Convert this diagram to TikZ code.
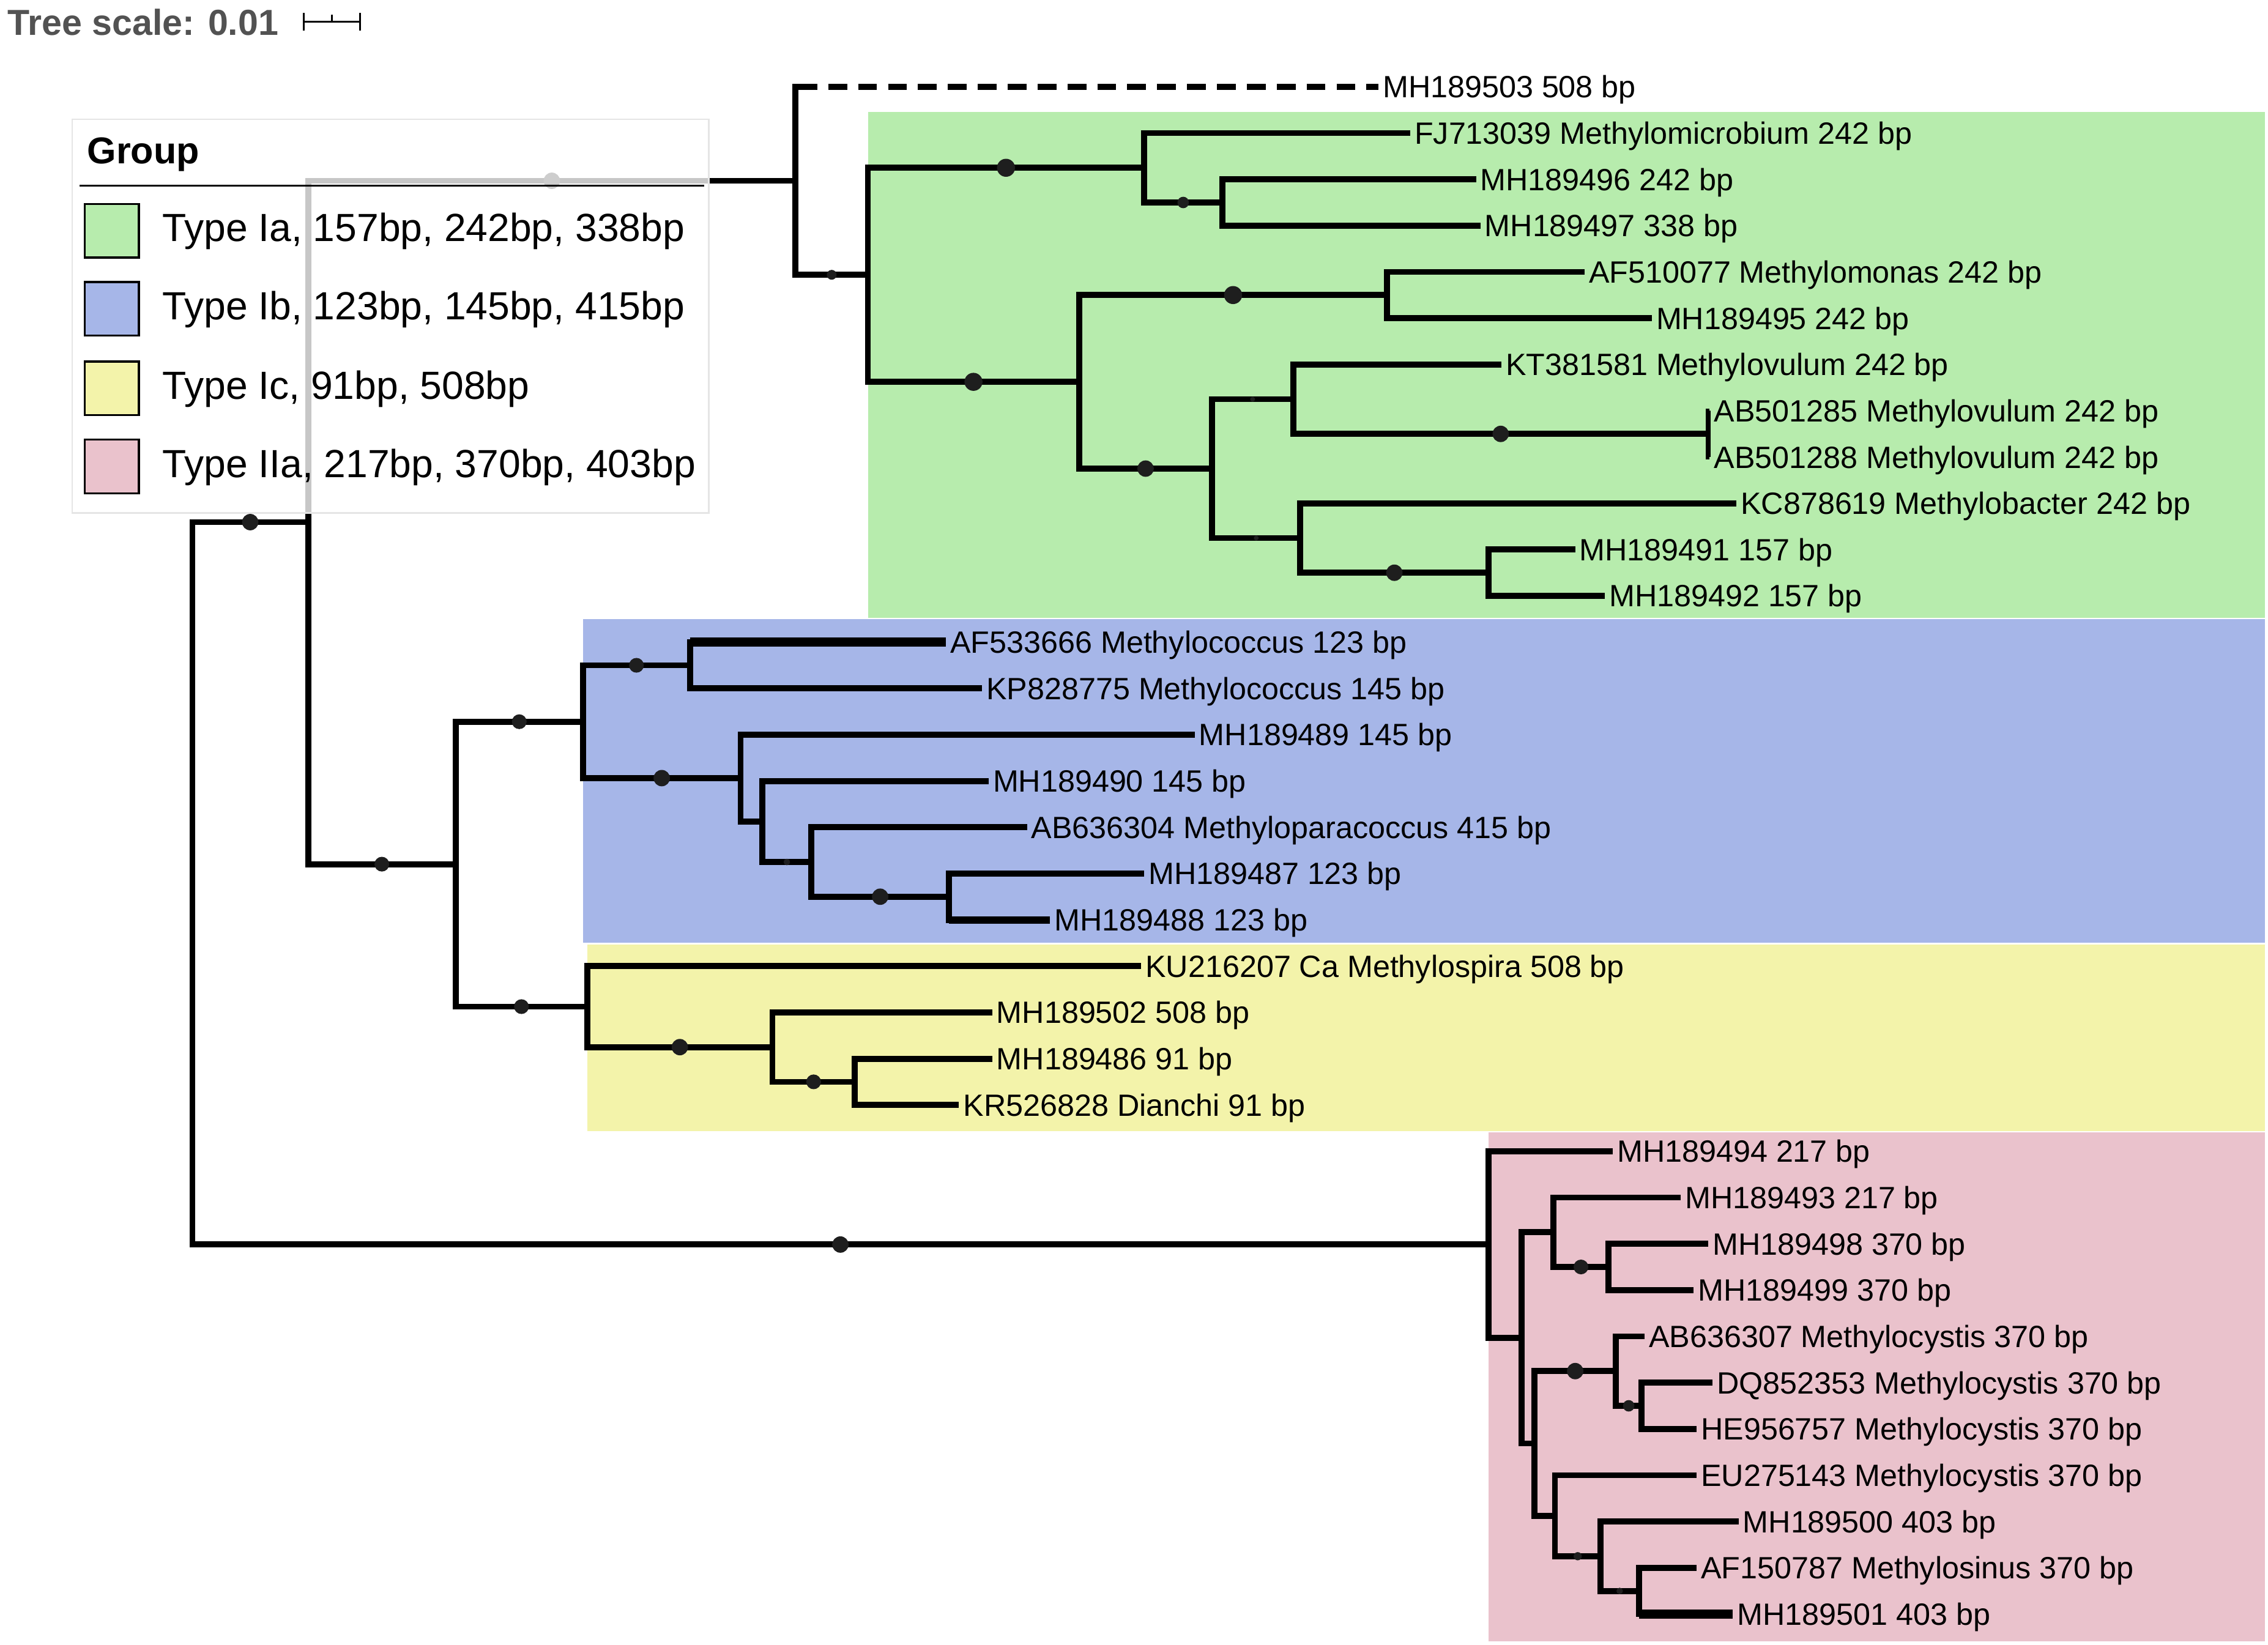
\documentclass[tikz,border=0pt]{standalone}
\usepackage{fontspec}
\setmainfont{Liberation Sans}
\usetikzlibrary{calc}
\definecolor{cIa}{RGB}{183,236,173}
\definecolor{cIb}{RGB}{166,182,232}
\definecolor{cIc}{RGB}{243,243,170}
\definecolor{cIIa}{RGB}{234,194,204}
\definecolor{dotc}{RGB}{30,30,30}
\newcommand{\brdot}[3]{\fill[dotc] ($(#1|-#2)!0.5!(#2)$) circle[radius=#3*0.68pt];}
\tikzset{
  leaf/.style={anchor=west, inner xsep=1.6pt, inner ysep=0pt, text height=9.1pt, text depth=0pt, font=\fontsize{12.76}{15}\selectfont},
  branch/.style={line width=2.5pt, line join=miter},
  legtext/.style={anchor=base west, inner sep=0pt, font=\fontsize{16.3}{19}\selectfont},
  legbox/.style={line width=0.85pt, draw=black},
}
\begin{document}
\begin{tikzpicture}[x=0.6pt,y=-0.6pt]
\useasboundingbox (0,0) rectangle (1568,1137);
\fill[white] (0,0) rectangle (1568,1137);
% clade backgrounds
\fill[cIa] (600,77.5) rectangle (1566,427);
\fill[cIb] (403,428) rectangle (1566,652);
\fill[cIc] (406,653) rectangle (1566,782);
\fill[cIIa] (1029,783) rectangle (1566,1135);

% internal nodes
\coordinate (R) at (133,610.75);
\coordinate (A) at (213,361);
\coordinate (B) at (550,125);
\coordinate (D) at (600,190);
\coordinate (E) at (791,116);
\coordinate (G) at (845,140);
\coordinate (F) at (746,264);
\coordinate (H) at (959,204);
\coordinate (I) at (838,324);
\coordinate (J) at (894,276);
\coordinate (L) at (1181,300);
\coordinate (K) at (899,372);
\coordinate (M) at (1029,396);
\coordinate (C) at (315,597.5);
\coordinate (N) at (403,499);
\coordinate (P) at (477,460);
\coordinate (Q) at (512,538);
\coordinate (S) at (527,568);
\coordinate (T) at (561,596);
\coordinate (U) at (656,620);
\coordinate (O) at (406,696);
\coordinate (V) at (534,724);
\coordinate (W) at (591,748);
\coordinate (X) at (1029,860.5);
\coordinate (Y) at (1052,925);
\coordinate (Z) at (1074,852);
\coordinate (AB) at (1112,876);
\coordinate (AA) at (1061,998);
\coordinate (AC) at (1117,948);
\coordinate (AE) at (1135,972);
\coordinate (AD) at (1075,1048);
\coordinate (AF) at (1106.5,1076);
\coordinate (AG) at (1133,1100);

% leaves
\node[leaf] (L1) at (953,60) {MH189503 508 bp};
\node[leaf] (L2) at (975,92) {FJ713039 Methylomicrobium 242 bp};
\node[leaf] (L3) at (1020.5,124) {MH189496 242 bp};
\node[leaf] (L4) at (1023.5,156) {MH189497 338 bp};
\node[leaf] (L5) at (1095.5,188) {AF510077 Methylomonas 242 bp};
\node[leaf] (L6) at (1142,220) {MH189495 242 bp};
\node[leaf] (L7) at (1038,252) {KT381581 Methylovulum 242 bp};
\node[leaf] (L8) at (1182,284) {AB501285 Methylovulum 242 bp};
\node[leaf] (L9) at (1182,316) {AB501288 Methylovulum 242 bp};
\node[leaf] (L10) at (1200.5,348) {KC878619 Methylobacter 242 bp};
\node[leaf] (L11) at (1089,380) {MH189491 157 bp};
\node[leaf] (L12) at (1109.5,412) {MH189492 157 bp};
\node[leaf] (L13) at (654,444) {AF533666 Methylococcus 123 bp};
\node[leaf] (L14) at (679,476) {KP828775 Methylococcus 145 bp};
\node[leaf] (L15) at (826,508) {MH189489 145 bp};
\node[leaf] (L16) at (683.5,540) {MH189490 145 bp};
\node[leaf] (L17) at (710,572) {AB636304 Methyloparacoccus 415 bp};
\node[leaf] (L18) at (791,604) {MH189487 123 bp};
\node[leaf] (L19) at (726,636) {MH189488 123 bp};
\node[leaf] (L20) at (789,668) {KU216207 Ca Methylospira 508 bp};
\node[leaf] (L21) at (686,700) {MH189502 508 bp};
\node[leaf] (L22) at (686,732) {MH189486 91 bp};
\node[leaf] (L23) at (663,764) {KR526828 Dianchi 91 bp};
\node[leaf] (L24) at (1115,796) {MH189494 217 bp};
\node[leaf] (L25) at (1162,828) {MH189493 217 bp};
\node[leaf] (L26) at (1181,860) {MH189498 370 bp};
\node[leaf] (L27) at (1171,892) {MH189499 370 bp};
\node[leaf] (L28) at (1137,924) {AB636307 Methylocystis 370 bp};
\node[leaf] (L29) at (1184,956) {DQ852353 Methylocystis 370 bp};
\node[leaf] (L30) at (1173,988) {HE956757 Methylocystis 370 bp};
\node[leaf] (L31) at (1173,1020) {EU275143 Methylocystis 370 bp};
\node[leaf] (L32) at (1202,1052) {MH189500 403 bp};
\node[leaf] (L33) at (1173,1084) {AF150787 Methylosinus 370 bp};
\node[leaf] (L34) at (1198,1116) {MH189501 403 bp};

% branches
\draw[branch] (R) |- (A); \brdot{R}{A}{5}
\draw[branch] (R) |- (X); \brdot{R}{X}{5}
\draw[branch] (A) |- (B); \brdot{A}{B}{5}
\draw[branch] (A) |- (C); \brdot{A}{C}{4.5}
\draw[branch, line cap=rect] (B) -- (B|-L1.west);
\draw[branch, dash pattern=on 7.8pt off 4.6pt] (B|-L1.west) ++(2,0) -- (L1.west);
\draw[branch] (B) |- (D); \brdot{B}{D}{3}
\draw[branch] (D) |- (E); \brdot{D}{E}{5.5}
\draw[branch] (D) |- (F); \brdot{D}{F}{5.5}
\draw[branch] (E) |- (L2.west);
\draw[branch] (E) |- (G); \brdot{E}{G}{3.5}
\draw[branch] (G) |- (L3.west);
\draw[branch] (G) |- (L4.west);
\draw[branch] (F) |- (H); \brdot{F}{H}{5.5}
\draw[branch] (F) |- (I); \brdot{F}{I}{5}
\draw[branch] (H) |- (L5.west);
\draw[branch] (H) |- (L6.west);
\draw[branch] (I) |- (J); \brdot{I}{J}{1.5}
\draw[branch] (I) |- (K); \brdot{I}{K}{1.5}
\draw[branch] (J) |- (L7.west);
\draw[branch] (J) |- (L); \brdot{J}{L}{5}
\draw[branch, line width=1.9pt] (L) |- (L8.west);
\draw[branch, line width=1.9pt] (L) |- (L9.west);
\draw[branch] (K) |- (L10.west);
\draw[branch] (K) |- (M); \brdot{K}{M}{5}
\draw[branch] (M) |- (L11.west);
\draw[branch] (M) |- (L12.west);
\draw[branch] (C) |- (N); \brdot{C}{N}{4.5}
\draw[branch] (C) |- (O); \brdot{C}{O}{4.5}
\draw[branch] (N) |- (P); \brdot{N}{P}{4.5}
\draw[branch] (N) |- (Q); \brdot{N}{Q}{5}
\draw[branch] (P) |- (L13.west);
\draw[line width=3.7pt] (P|-L13.west) -- (L13.west);
\draw[branch] (P) |- (L14.west);
\draw[branch] (Q) |- (L15.west);
\draw[branch] (Q) |- (S);
\draw[branch] (S) |- (L16.west);
\draw[branch] (S) |- (T); \brdot{S}{T}{2}
\draw[branch] (T) |- (L17.west);
\draw[branch] (T) |- (U); \brdot{T}{U}{5}
\draw[branch] (U) |- (L18.west);
\draw[branch] (U) |- (L19.west);
\draw[line width=3.1pt] (U|-L19.west) -- (L19.west);
\draw[branch] (O) |- (L20.west);
\draw[branch] (O) |- (V); \brdot{O}{V}{5}
\draw[branch] (V) |- (L21.west);
\draw[branch] (V) |- (W); \brdot{V}{W}{4.5}
\draw[branch] (W) |- (L22.west);
\draw[branch] (W) |- (L23.west);
\draw[branch] (X) |- (L24.west);
\draw[branch] (X) |- (Y);
\draw[branch] (Y) |- (Z);
\draw[branch] (Y) |- (AA);
\draw[branch] (Z) |- (L25.west);
\draw[branch] (Z) |- (AB); \brdot{Z}{AB}{4.5}
\draw[branch] (AB) |- (L26.west);
\draw[branch] (AB) |- (L27.west);
\draw[branch] (AA) |- (AC); \brdot{AA}{AC}{5}
\draw[branch] (AA) |- (AD);
\draw[branch] (AC) |- (L28.west);
\draw[branch] (AC) |- (AE); \brdot{AC}{AE}{3.5}
\draw[branch] (AE) |- (L29.west);
\draw[branch] (AE) |- (L30.west);
\draw[branch] (AD) |- (L31.west);
\draw[branch] (AD) |- (AF); \brdot{AD}{AF}{2.5}
\draw[branch] (AF) |- (L32.west);
\draw[branch] (AF) |- (AG); \brdot{AF}{AG}{2}
\draw[branch] (AG) |- (L33.west);
\draw[branch] (AG) |- (L34.west);
\draw[line width=3.7pt] (AG|-L34.west) -- (L34.west);

% legend
\fill[white, opacity=0.78] (50,82.6) rectangle (490,354.6);
\draw[black!10, line width=0.6pt] (50,82.6) rectangle (490,354.6);
\node[anchor=base west, inner sep=0pt, font=\bfseries\fontsize{15.5}{18}\selectfont] (grp) at (60,113) {Group};
\draw[line width=0.9pt] (55,128.3) -- (487,128.3);
\draw[legbox, fill=cIa] (58.5,141) rectangle (96,178);
\draw[legbox, fill=cIb] (58.5,195) rectangle (96,232);
\draw[legbox, fill=cIc] (58.5,250) rectangle (96,287);
\draw[legbox, fill=cIIa] (58.5,304) rectangle (96,341);
\node[legtext] (tIa) at (112,167) {Type Ia, 157bp, 242bp, 338bp};
\node[legtext] (tIb) at (112,221) {Type Ib, 123bp, 145bp, 415bp};
\node[legtext] (tIc) at (112,276) {Type Ic, 91bp, 508bp};
\node[legtext] (tIIa) at (112,330) {Type IIa, 217bp, 370bp, 403bp};

% tree scale
\node[anchor=base west, inner sep=0pt, text=black!68, font=\bfseries\fontsize{15}{18}\selectfont] (ts) at (5,24.5) {Tree scale: 0.01};
\draw[line width=0.7pt] (210,15) -- (249,15);
\draw[line width=0.7pt] (210,9) -- (210,21);
\draw[line width=0.7pt] (249,9) -- (249,21);
\draw[line width=0.7pt] (229.5,10) -- (229.5,15);
\end{tikzpicture}
\end{document}
